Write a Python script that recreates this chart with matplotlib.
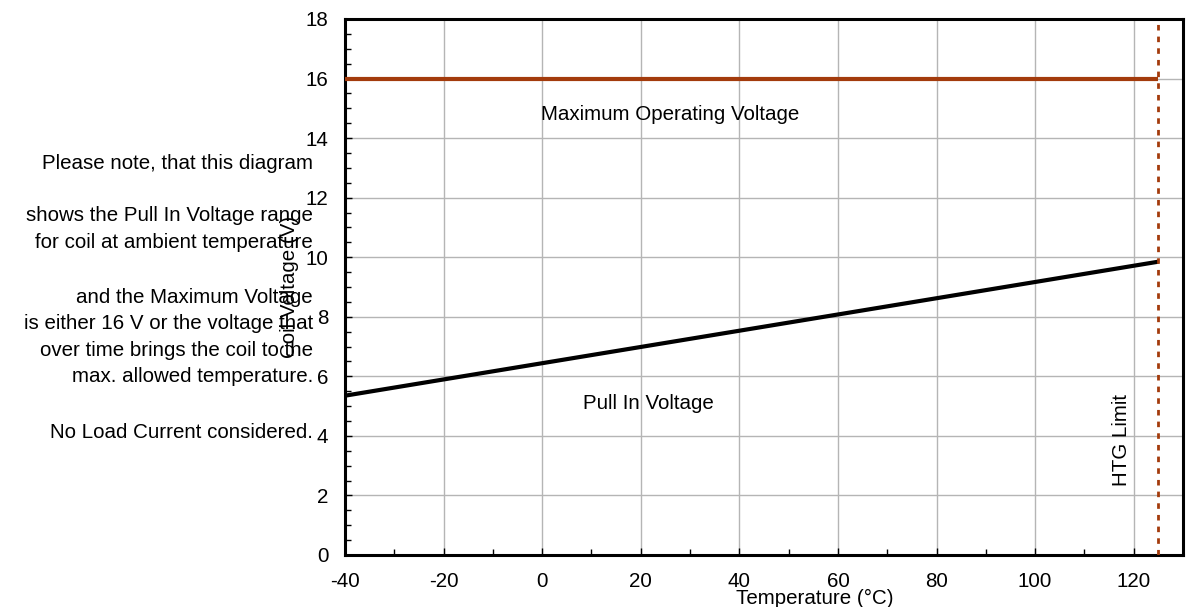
import matplotlib.pyplot as plt
from matplotlib.patches import Rectangle
from matplotlib.ticker import MultipleLocator

plt.rcParams['font.family'] = ['Liberation Sans', 'DejaVu Sans']
plt.rcParams['axes.unicode_minus'] = False

# data
temp = [-40, 125]
pull_in = [5.35, 9.85]
max_voltage = [16, 16]
htg_limit = 125

note_lines = [
    ("Please note, that this diagram", 13.15),
    ("shows the Pull In Voltage range", 11.4),
    ("for coil at ambient temperature", 10.5),
    ("and the Maximum Voltage", 8.65),
    ("is either 16 V or the voltage that", 7.78),
    ("over time brings the coil to the", 6.88),
    ("max. allowed temperature.", 5.98),
    ("No Load Current considered.", 4.10),
]

orange = '#a33b0c'
fs = 14.8

fig = plt.figure(figsize=(11.87, 6.07), dpi=100)
ax = fig.add_axes([345 / 1187, 1 - 555 / 607, 838 / 1187, 536 / 607])

ax.plot(temp, max_voltage, color=orange, lw=3, solid_capstyle='butt', zorder=3)
ax.plot(temp, pull_in, color='black', lw=3, solid_capstyle='butt', zorder=3)
ax.axvline(htg_limit, color=orange, lw=2, linestyle=(0, (2, 2.2)), zorder=4)

ax.set_xlim(-40, 130)
ax.set_ylim(0, 18)
ax.xaxis.set_major_locator(MultipleLocator(20))
ax.xaxis.set_minor_locator(MultipleLocator(10))
ax.yaxis.set_major_locator(MultipleLocator(2))
ax.yaxis.set_minor_locator(MultipleLocator(0.5))
ax.grid(True, which='major', color='#b5b5b5', lw=1, zorder=0)
ax.tick_params(which='both', direction='in', labelsize=fs)
ax.tick_params(which='major', length=5, width=1)
ax.tick_params(which='minor', length=4, width=1)
ax.tick_params(axis='x', pad=12)
ax.tick_params(axis='y', pad=12)
for sp in ax.spines.values():
    sp.set_linewidth(2.2)

ax.text(26, 14.8, "Maximum Operating Voltage", ha='center', va='center', fontsize=fs)
ax.text(21.5, 5.1, "Pull In Voltage", ha='center', va='center', fontsize=fs)

# white box behind the HTG label
ax.add_patch(Rectangle((113.5, 1.07), 8.2, 5.65, facecolor='white',
                       edgecolor='none', zorder=1))
ax.text(117.6, 3.86, "HTG Limit", rotation=90, ha='center', va='center',
        fontsize=fs, zorder=2)

for line, y in note_lines:
    ax.text(-46.5, y, line, ha='right', va='center', fontsize=fs, clip_on=False)

ax.set_ylabel("Coil Voltage (V)", fontsize=fs)
ax.yaxis.set_label_coords(-0.055, 0.5)
fig.text(815 / 1187, 1 - 598 / 607, "Temperature (°C)", ha='center',
         va='center', fontsize=fs)

fig.savefig('out.png', dpi=100)
